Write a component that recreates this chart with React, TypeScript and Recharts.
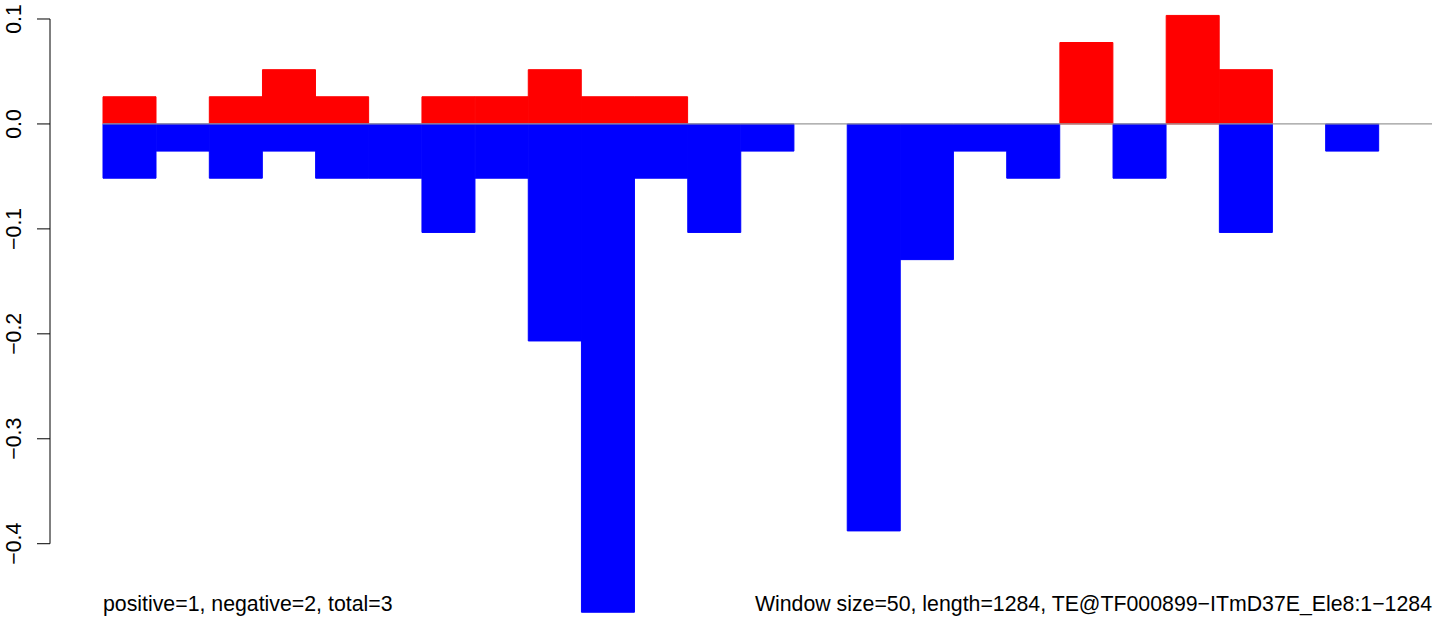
import React from "react";
import { BarChart, Bar, XAxis, YAxis, ReferenceLine } from "recharts";

// window start positions (window size 50)
const windows = [
  "1", "51", "101", "151", "201", "251", "301", "351", "401", "451",
  "501", "551", "601", "651", "701", "751", "801", "851", "901", "951",
  "1001", "1051", "1101", "1151", "1201",
];
const positive = [
  0.0259, 0, 0.0259, 0.0517, 0.0259, 0, 0.0259, 0.0259, 0.0517, 0.0259,
  0.0259, 0, 0, 0, 0, 0, 0, 0, 0.0776, 0,
  0.1034, 0.0517, 0, 0, 0,
];
const negative = [
  -0.0517, -0.0259, -0.0517, -0.0259, -0.0517, -0.0517, -0.1034, -0.0517, -0.2068, -0.4653,
  -0.0517, -0.1034, -0.0259, 0, -0.3878, -0.1293, -0.0259, -0.0517, 0, -0.0517,
  0, -0.1034, 0, -0.0259, 0,
];
const yTicks = [0.1, 0, -0.1, -0.2, -0.3, -0.4];
const yTickLabels = ["0.1", "0.0", "\u22120.1", "\u22120.2", "\u22120.3", "\u22120.4"];
const leftNote = "positive=1, negative=2, total=3";
const rightNote = "Window size=50, length=1284, TE@TF000899\u2212ITmD37E_Ele8:1\u22121284";

const data = windows.map((w, i) => ({ win: w, pos: positive[i], neg: negative[i] }));

const W = 1444;
const H = 624;
const PLOT_LEFT = 103;
const PLOT_RIGHT = 1432;
const Y_MAX = 0.1181;
const Y_MIN = -0.4765;
const PX_PER_UNIT = H / (Y_MAX - Y_MIN);
const AXIS_X = 50;
const FONT = "'Liberation Sans', Arial, Helvetica, sans-serif";
const FONT_SIZE = 21.3;

const YTick = (props: any) => {
  const { y, payload } = props;
  const v = payload.value as number;
  const idx = yTicks.findIndex((t) => Math.abs(t - v) < 1e-9);
  const label = idx >= 0 ? yTickLabels[idx] : String(v);
  const isTop = idx === 0;
  return (
    <g>
      <line x1={AXIS_X - 13} x2={AXIS_X} y1={y} y2={y} stroke="#000" strokeWidth={1} />
      {isTop && (
        <line
          x1={AXIS_X}
          x2={AXIS_X}
          y1={y}
          y2={y + 0.5 * PX_PER_UNIT}
          stroke="#000"
          strokeWidth={1}
        />
      )}
      <text
        x={21}
        y={y}
        transform={`rotate(-90 21 ${y})`}
        textAnchor="middle"
        fontFamily={FONT}
        fontSize={FONT_SIZE}
        fill="#000"
      >
        {label}
      </text>
    </g>
  );
};

export default function App() {
  return (
    <div style={{ position: "relative", width: W, height: H, overflow: "hidden", background: "#fff" }}>
      <style>{"body{margin:0;overflow:hidden;background:#fff}"}</style>
      <BarChart
        width={W}
        height={H}
        data={data}
        margin={{ top: 0, right: W - PLOT_RIGHT, bottom: 0, left: 0 }}
        stackOffset="sign"
        barCategoryGap={0}
        barGap={0}
      >
        <XAxis dataKey="win" hide />
        <YAxis
          width={PLOT_LEFT}
          domain={[Y_MIN, Y_MAX]}
          allowDataOverflow
          ticks={yTicks}
          interval={0}
          axisLine={false}
          tickLine={false}
          tick={(p: any) => <YTick {...p} />}
        />
        <ReferenceLine y={0} stroke="#9a9a9a" strokeWidth={1.2} />
        <Bar dataKey="pos" stackId="s" fill="#FF0000" stroke="#FF0000" strokeWidth={1} isAnimationActive={false} />
        <Bar dataKey="neg" stackId="s" fill="#0000FF" stroke="#0000FF" strokeWidth={1} isAnimationActive={false} />
      </BarChart>
      <svg
        width={W}
        height={H}
        style={{ position: "absolute", left: 0, top: 0, pointerEvents: "none" }}
      >
        <text x={PLOT_LEFT} y={611} fontFamily={FONT} fontSize={FONT_SIZE} fill="#000">
          {leftNote}
        </text>
        <text x={PLOT_RIGHT} y={611} textAnchor="end" fontFamily={FONT} fontSize={FONT_SIZE} fill="#000">
          {rightNote}
        </text>
      </svg>
    </div>
  );
}
